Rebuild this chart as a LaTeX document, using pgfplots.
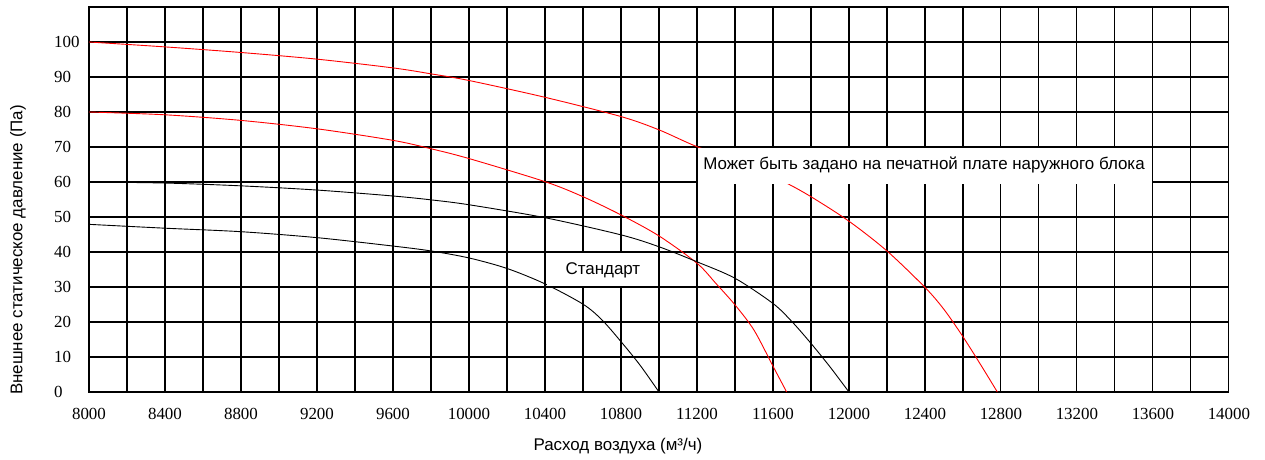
\documentclass[border=0pt]{standalone}
\usepackage{fontspec}
\setmainfont{Liberation Serif}
\newfontfamily\sansf{Liberation Sans}
\usepackage{pgfplots}
\pgfplotsset{compat=1.18}
\definecolor{cred}{RGB}{255,0,0}
\begin{document}
\begin{tikzpicture}
\path[use as bounding box] (-89bp,-68bp) rectangle (1176bp,392bp);
\begin{axis}[
  at={(0,0)}, anchor=south west,
  scale only axis, width=1140bp, height=385bp,
  xmin=8000, xmax=14000, ymin=0, ymax=110,
  xtick={8000,8400,...,14000},
  minor xtick={8200,8600,...,13800},
  ytick={0,10,...,100},
  grid=both,
  grid style={black, line width=1.1bp},
  minor grid style={black, line width=1.1bp},
  axis line style={black, line width=1.1bp},
  major tick length=0pt, minor tick length=0pt,
  tick label style={font=\fontsize{17}{17}\selectfont, inner sep=0pt},
  xticklabel style={anchor=north, yshift=-16bp},
  yticklabel style={anchor=west, xshift=-35bp},
  /pgf/number format/assume math mode=true,
  /pgf/number format/1000 sep={},
  scaled x ticks=false,
  xlabel={\sansf Расход воздуха (м³/ч)},
  ylabel={\sansf Внешнее статическое давление (Па)},
  label style={font=\fontsize{17}{17}\selectfont},
  xlabel style={at={(axis description cs:0.464,-0.140)}, anchor=center},
  ylabel style={at={(axis description cs:-0.0623,0.369)}, anchor=center},
  every axis plot/.append style={line width=0.9bp, smooth, tension=0.5},
]
\addplot[cred] coordinates {
(8000,100) (8400,98.6) (8800,97.0) (9200,95.1) (9600,92.6) (9800,90.9) (10000,89.0)
(10400,84.2) (10800,78.7) (11000,74.9) (11200,70.1) (11450,65.3) (11660,60) (11800,55.8)
(12000,48.8) (12200,40.3) (12400,29.9) (12500,23.6) (12600,15.8) (12700,7.2) (12781,0)};
\addplot[cred] coordinates {
(8000,80) (8400,79.2) (8800,77.6) (9200,75.2) (9600,71.9) (9800,69.5) (10000,66.7)
(10400,60.1) (10600,55.8) (10800,50.6) (11000,44.6) (11200,36.8) (11300,31.0)
(11400,24.9) (11500,17.7) (11600,7.4) (11672,0)};
\addplot[black] coordinates {
(8000,60) (8400,59.7) (8800,58.9) (9200,57.7) (9600,56.0) (9800,54.9) (10000,53.5)
(10400,49.8) (10800,44.9) (11000,41.5) (11200,37.2) (11400,32.5) (11600,25.3)
(11700,20.1) (11800,13.9) (11900,7.2) (12000,0)};
\addplot[black] coordinates {
(8000,47.9) (8400,46.8) (8800,45.8) (9200,44.1) (9600,41.7) (9800,40.3) (10000,38.3)
(10200,35.3) (10400,30.9) (10600,25.1) (10700,20.6) (10800,14.4) (10900,7.7) (11000,0)};
\fill[white] (axis cs:10410,30.25) rectangle (axis cs:10990,39.75);
\fill[white] (axis cs:11203,59.5) rectangle (axis cs:13597,69.75);
\node[font=\sansf\fontsize{17}{17}\selectfont, anchor=center] at (axis cs:10705,34.9) {Стандарт};
\node[font=\sansf\fontsize{17}{17}\selectfont, anchor=center] at (axis cs:12395,64.9) {Может быть задано на печатной плате наружного блока};
\end{axis}
\end{tikzpicture}
\end{document}
